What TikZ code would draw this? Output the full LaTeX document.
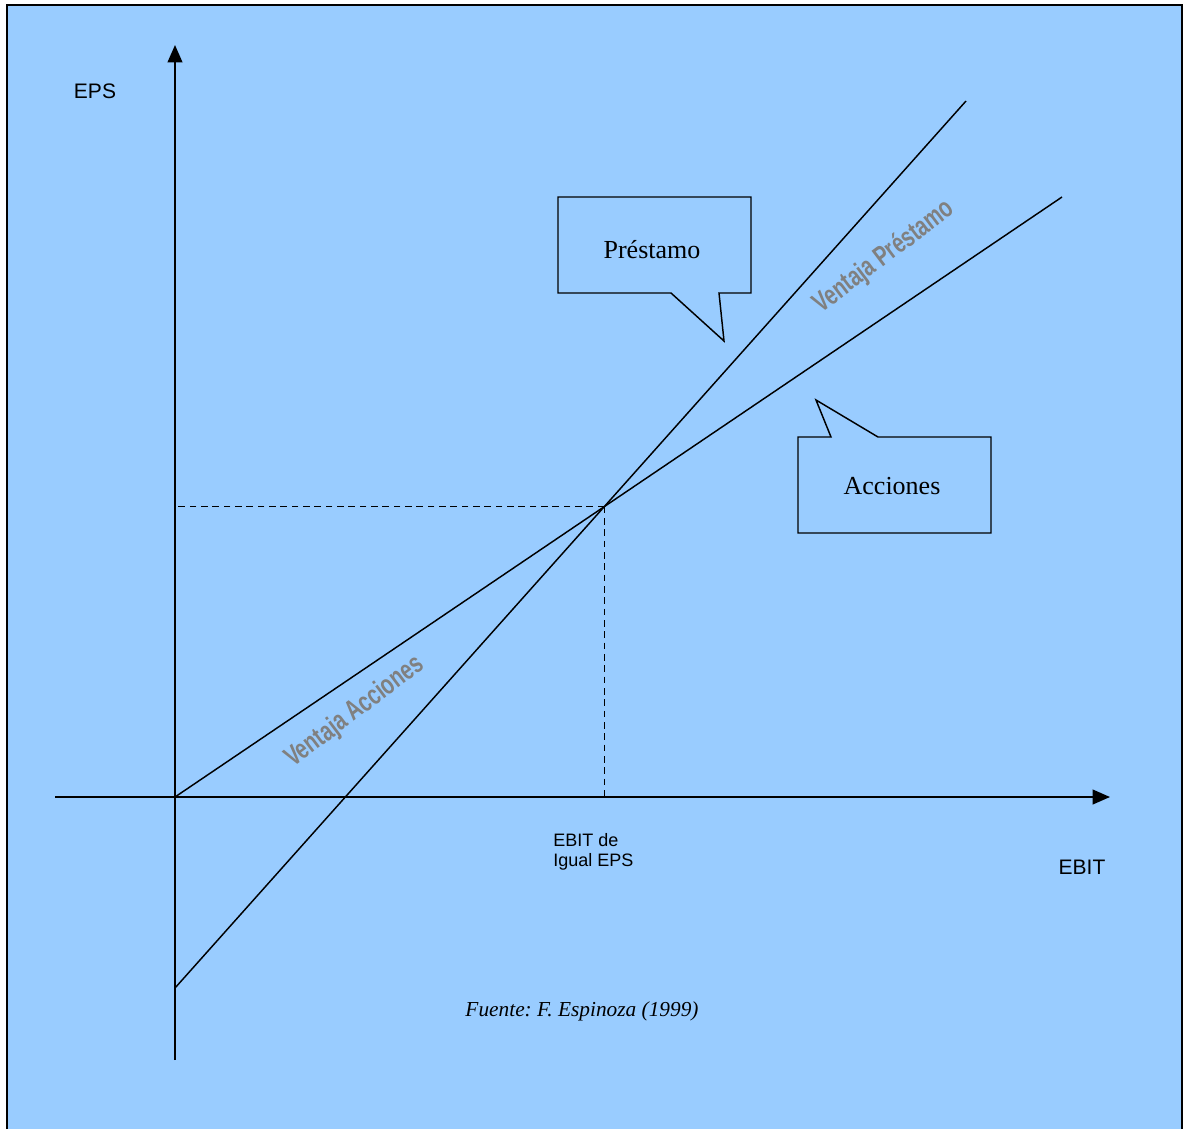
\documentclass[tikz,border=0pt]{standalone}
\usepackage{fontspec}
\setmainfont{Liberation Serif}
\setsansfont{Liberation Sans}
\usetikzlibrary{arrows.meta}
\definecolor{fondo}{RGB}{153,204,255}
\definecolor{gris}{RGB}{128,128,128}
\frenchspacing

\tikzset{
  eje/.style={line width=1.5pt, -{Triangle[length=13pt,width=11pt]}},
  recta/.style={line width=1.1pt},
  guia/.style={line width=1pt, dash pattern=on 5pt off 3.5pt},
  globo/.style={line width=1.1pt},
  serif/.style={font=\fontsize{19.5}{22}\selectfont},
  rotulo/.style={font=\sffamily\fontsize{15.75}{18}\selectfont},
  ventaja/.style={text=gris, font=\sffamily\bfseries\fontsize{21}{24}\selectfont, rotate=37}
}

\begin{document}
\begin{tikzpicture}[x=0.75pt,y=0.75pt,yscale=-1,xscale=1]
\useasboundingbox (0,0) rectangle (1185,1129);

%Shape: Background
\fill [fondo] (7,5) rectangle (1182,1129);
\draw [line width=1.3pt] (7,1129) -- (7,5) -- (1182,5) -- (1182,1129);

% Coordinates
\coordinate (O) at (175,797);
\coordinate (ytop) at (175,45);
\coordinate (ybot) at (175,1060);
\coordinate (xleft) at (55,797);
\coordinate (xright) at (1110,797);
\coordinate (acc1) at (1062,197);
\coordinate (pre0) at (175,988);
\coordinate (pre1) at (966,101);

%Straight Lines: axes
\draw [eje] (ybot) -- (ytop);
\draw [eje] (xleft) -- (xright);

%Straight Lines: Acciones and Prestamo
\draw [recta] (O) -- (acc1);
\draw [recta] (pre0) -- (pre1);

% Indifference point
\coordinate (eq) at (intersection of O--acc1 and pre0--pre1);
\draw [guia] (eq) -- (eq -| O);
\draw [guia] (eq) -- (eq |- O);

%Shape: Callout Prestamo
\draw [globo] (558,197) -- (751,197) -- (751,293) -- (719,293) -- (724,341) -- (671,293) -- (558,293) -- cycle;
%Shape: Callout Acciones
\draw [globo] (798,437) -- (831,437) -- (816,400) -- (878,437) -- (991,437) -- (991,533) -- (798,533) -- cycle;

% Text Node
\node [serif] (prestamo) at (652,250) {Préstamo};
% Text Node
\node [serif] (acciones) at (892,486) {Acciones};
% Text Node
\node [ventaja] (vpre) at (884,257) {\scalebox{0.72}[1]{Ventaja Préstamo}};
% Text Node
\node [ventaja] (vacc) at (355,712) {\scalebox{0.72}[1]{Ventaja Acciones}};
% Text Node
\node [rotulo] (eps) at (95,91) {EPS};
% Text Node
\node [rotulo] (ebit) at (1082,867) {EBIT};
% Text Node
\node [align=left, anchor=west, inner sep=0pt, font=\sffamily\fontsize{13.5}{15}\selectfont] (igual) at (553,852) {EBIT de\\Igual EPS};
% Text Node
\node [font=\itshape\fontsize{16}{18}\selectfont] (fuente) at (582,1011) {Fuente: F. Espinoza (1999)};

\end{tikzpicture}
\end{document}
